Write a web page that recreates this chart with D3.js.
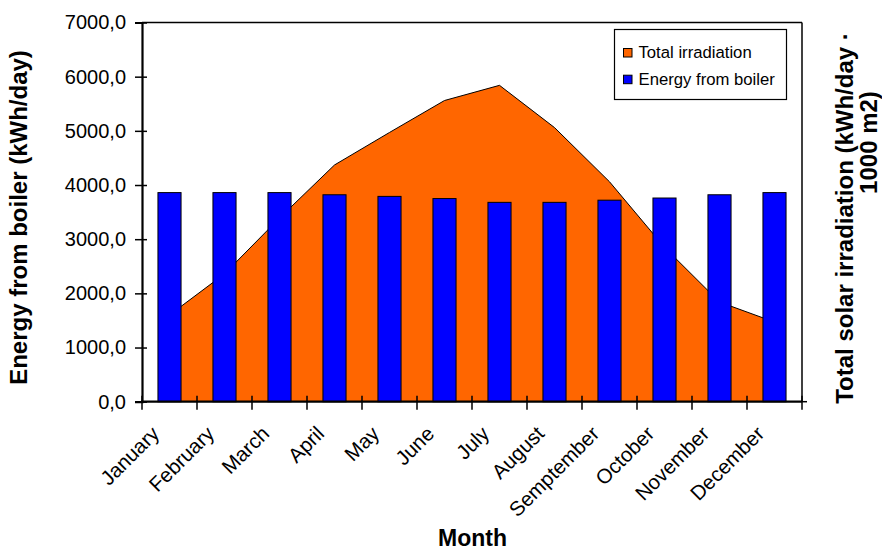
<!DOCTYPE html>
<html>
<head>
<meta charset="utf-8">
<script src="https://cdn.jsdelivr.net/npm/d3@7"></script>
<style>
  html, body { margin: 0; padding: 0; background: #fff; }
  svg { display: block; font-family: "Liberation Sans", Arial, sans-serif; }
</style>
</head>
<body>
<svg id="chart" width="882" height="550"></svg>
<script>
// Monthly categories
const months = ["January", "February", "March", "April", "May", "June", "July",
  "August", "Semptember", "October", "November", "December"];

// Total solar irradiation (kWh/day · 1000 m2)
const irradiation = [1600, 2360, 3390, 4370, 4970, 5560, 5840, 5060, 4060, 2850, 1840, 1470];

// Energy from boiler (kWh/day)
const boilerEnergy = [3860, 3860, 3860, 3820, 3790, 3750, 3680, 3680, 3720, 3760, 3820, 3860];

// Left axis ticks
const yTicks = [0, 1000, 2000, 3000, 4000, 5000, 6000, 7000];

const legendItems = ["Total irradiation", "Energy from boiler"];
const legendColors = ["#FF6600", "#0000FF"];

const svg = d3.select("#chart");

const plot = { left: 142, right: 802, top: 22.5, bottom: 401.7 };

const x = d3.scaleBand()
  .domain(months)
  .range([plot.left, plot.right])
  .paddingInner(0.58)
  .paddingOuter(0.29);

const y = d3.scaleLinear()
  .domain([0, 7000])
  .range([plot.bottom, plot.top]);

const center = d => x(d) + x.bandwidth() / 2;
const fmt = v => d3.format(".1f")(v).replace(".", ",");

// Irradiation area, drawn behind the bars
const areaGen = d3.area()
  .x((d, i) => center(months[i]))
  .y0(y(0))
  .y1(d => y(d));
const lineGen = d3.line()
  .x((d, i) => center(months[i]))
  .y(d => y(d));

svg.append("path")
  .datum(irradiation)
  .attr("d", areaGen)
  .attr("fill", "#FF6600");
svg.append("path")
  .datum(irradiation)
  .attr("d", lineGen)
  .attr("fill", "none")
  .attr("stroke", "#000")
  .attr("stroke-width", 1);

// Boiler energy bars
svg.append("g")
  .selectAll("rect")
  .data(boilerEnergy)
  .join("rect")
  .attr("x", (d, i) => x(months[i]))
  .attr("y", d => y(d))
  .attr("width", x.bandwidth())
  .attr("height", d => y(0) - y(d))
  .attr("fill", "#0000FF")
  .attr("stroke", "#000")
  .attr("stroke-width", 1);

// Plot frame: top and right edges
svg.append("line")
  .attr("x1", plot.left).attr("x2", plot.right)
  .attr("y1", plot.top).attr("y2", plot.top)
  .attr("stroke", "#000").attr("stroke-width", 1.5);
svg.append("line")
  .attr("x1", plot.right).attr("x2", plot.right)
  .attr("y1", plot.top).attr("y2", plot.bottom)
  .attr("stroke", "#000").attr("stroke-width", 1.5);
svg.append("line")
  .attr("x1", plot.right).attr("x2", plot.right + 5)
  .attr("y1", plot.bottom).attr("y2", plot.bottom)
  .attr("stroke", "#000").attr("stroke-width", 1.5);

// Left axis
const yAxis = svg.append("g")
  .attr("transform", `translate(${plot.left},0)`)
  .call(d3.axisLeft(y).tickValues(yTicks).tickFormat(fmt).tickSize(7).tickPadding(9));
yAxis.select(".domain").attr("stroke-width", 2.2);
yAxis.selectAll(".tick line").attr("x2", -7).attr("x1", 5).attr("stroke-width", 1.5);
yAxis.selectAll(".tick text")
  .attr("font-size", 20)
  .attr("font-family", "Liberation Sans, Arial, sans-serif")
  .attr("fill", "#000");

// Bottom axis with ticks between months
const xTickPos = d3.range(months.length + 1).map(i => plot.left + i * x.step());
const xAxisG = svg.append("g");
xAxisG.append("line")
  .attr("x1", plot.left - 1).attr("x2", plot.right)
  .attr("y1", plot.bottom).attr("y2", plot.bottom)
  .attr("stroke", "#000").attr("stroke-width", 2.2);
xAxisG.selectAll("line.tick")
  .data(xTickPos)
  .join("line")
  .attr("class", "tick")
  .attr("x1", d => d).attr("x2", d => d)
  .attr("y1", plot.bottom - 6).attr("y2", plot.bottom + 8)
  .attr("stroke", "#000").attr("stroke-width", 1.5);

// Rotated month labels
xAxisG.selectAll("text")
  .data(months)
  .join("text")
  .attr("transform", d => `translate(${center(d) - 9},${435}) rotate(-45)`)
  .attr("text-anchor", "end")
  .attr("font-size", 20.5)
  .attr("fill", "#000")
  .text(d => d);

// Axis titles
svg.append("text")
  .attr("transform", "translate(27,217.5) rotate(-90)")
  .attr("text-anchor", "middle")
  .attr("font-size", 24)
  .attr("font-weight", "bold")
  .text("Energy from boiler (kWh/day)");

svg.append("text")
  .attr("x", 472.5).attr("y", 546)
  .attr("text-anchor", "middle")
  .attr("font-size", 23)
  .attr("font-weight", "bold")
  .text("Month");

svg.append("text")
  .attr("transform", "translate(853,218) rotate(-90)")
  .attr("text-anchor", "middle")
  .attr("font-size", 24)
  .attr("font-weight", "bold")
  .text("Total solar irradiation (kWh/day ·");
svg.append("text")
  .attr("transform", "translate(877,142.5) rotate(-90)")
  .attr("text-anchor", "middle")
  .attr("font-size", 24)
  .attr("font-weight", "bold")
  .text("1000 m2)");

// Legend
const legend = svg.append("g");
legend.append("rect")
  .attr("x", 614.5).attr("y", 29.5)
  .attr("width", 172).attr("height", 70)
  .attr("fill", "#fff")
  .attr("stroke", "#000").attr("stroke-width", 1.2);
const li = legend.selectAll("g.item")
  .data(legendItems)
  .join("g")
  .attr("class", "item")
  .attr("transform", (d, i) => `translate(0,${i * 26.7})`);
li.append("rect")
  .attr("x", 623.5).attr("y", 48.5)
  .attr("width", 8.5).attr("height", 8.5)
  .attr("fill", (d, i) => legendColors[i])
  .attr("stroke", "#000").attr("stroke-width", 1);
li.append("text")
  .attr("x", 638.5).attr("y", 58)
  .attr("font-size", 16.7)
  .attr("fill", "#000")
  .text(d => d);
</script>
</body>
</html>
